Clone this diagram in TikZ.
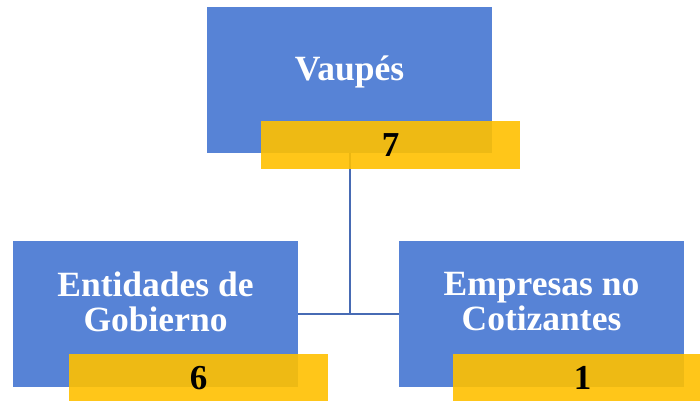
\documentclass[tikz,border=0pt]{standalone}
\usepackage{fontspec}
\setmainfont{Liberation Serif}
\definecolor{azul}{RGB}{87,131,214}
\definecolor{amarillo}{RGB}{255,192,0}
\definecolor{linea}{RGB}{71,107,180}
\begin{document}
\begin{tikzpicture}[x=1pt,y=1pt]
	    \tikzset{
	      caja/.style={fill=azul, minimum width=285pt, minimum height=146pt, inner sep=0pt},
	      cifra/.style={fill=amarillo, fill opacity=0.9, text opacity=1, minimum width=259pt,
	        minimum height=48pt, inner sep=0pt, font=\fontsize{35}{35}\selectfont\bfseries},
	      rotulo/.style={text=white, align=center, font=\fontsize{35.5}{35}\selectfont\bfseries},
	      enlace/.style={draw=linea, line width=2pt}
	    }
	    \useasboundingbox (0,0) rectangle (700,400);
	    \node[caja] (vaupes) at (349.5,320) {};
	    \node[caja] (gobierno) at (155.5,86) {};
	    \node[caja] (empresas) at (541.5,86) {};
	    \node[rotulo] (vaupes-txt) at ([yshift=8]vaupes.center) {Vaupés};
	    \node[rotulo] (gobierno-txt) at ([yshift=12]gobierno.center) {Entidades de\\Gobierno};
	    \node[rotulo] (empresas-txt) at ([yshift=12]empresas.center) {Empresas no\\Cotizantes};
	    \coordinate (union) at (vaupes |- gobierno);
	    \draw[enlace] (vaupes) -- (union);
	    \draw[enlace] (gobierno) -- (empresas);
	    \node[cifra] (vaupes-n) at (390.5,255) {7};
	    \node[cifra] (gobierno-n) at (198.5,22) {6};
	    \node[cifra] (empresas-n) at (582.5,22) {1};
	    % \draw[enlace] (union) -- (gobierno);
\end{tikzpicture}
\end{document}
